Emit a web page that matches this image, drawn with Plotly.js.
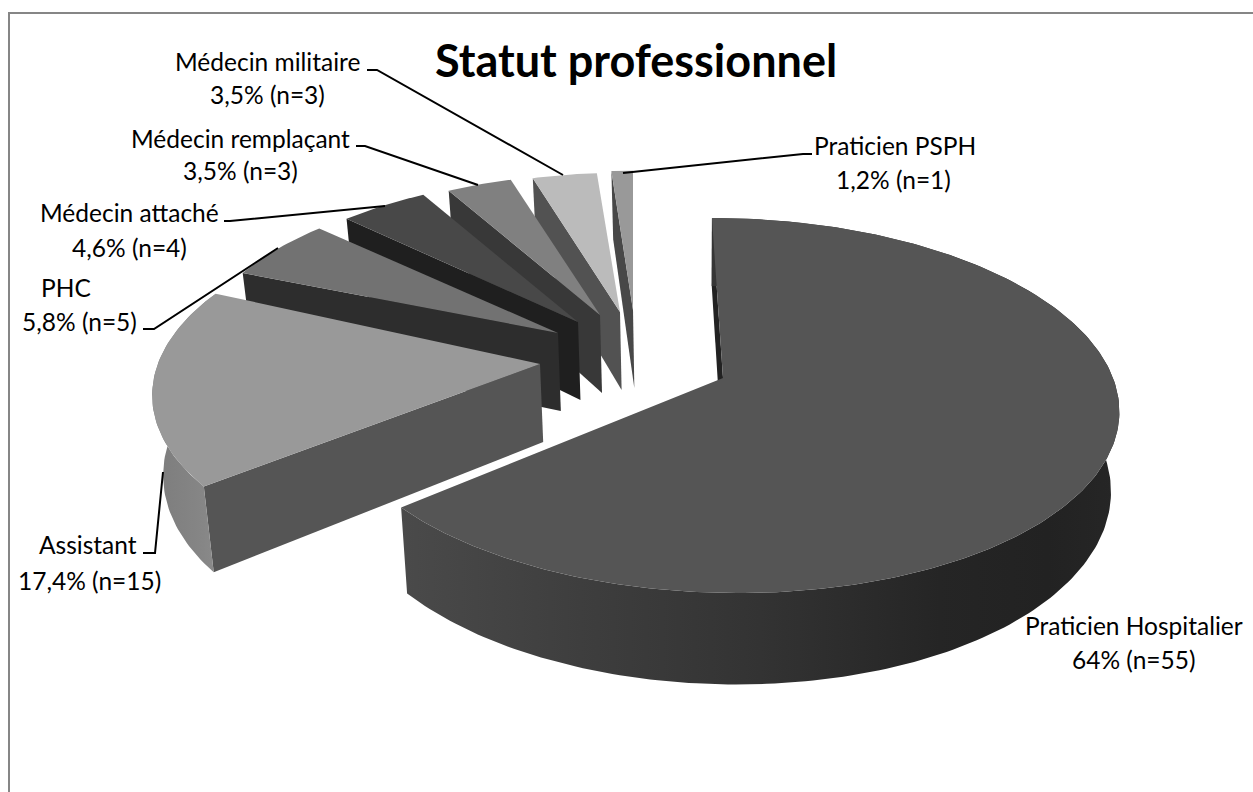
<!DOCTYPE html>
<html>
<head>
<meta charset="utf-8">
<script src="https://cdn.plot.ly/plotly-3.0.1.min.js"></script>
<style>html,body{margin:0;padding:0;background:#fff}#chart{width:1253px;height:792px}</style>
</head>
<body>
<div id="chart"></div>
<script>
// --- data ---
const categories = ["Praticien Hospitalier","Assistant","PHC","Médecin attaché","Médecin remplaçant","Médecin militaire","Praticien PSPH"];
const counts = [55,15,5,4,3,3,1];
const percentLabels = ["64%","17,4%","5,8%","4,6%","3,5%","3,5%","1,2%"];
const chartTitle = "Statut professionnel";

// --- styles and placement (not data) ---
const topColors  = ["#555555","#999999","#727272","#484848","#808080","#bbbbbb","#999999"];
const wallColors = ["#222222","#555555","#2d2d2d","#1f1f1f","#383838","#525252","#484848"];
const apexX = [723,540,558,578,600,620,633];
const apexY = [378,364,333,322,315,312,310];
const angleShift = [0,1.5,-1,-0.5,-0.5,-0.3,0];
const radiusScale = [1,0.98,0.92,0.9,0.88,0.87,0.87];
const sliceSkew = [0.069,-0.05,0,0,0,0,0];
const radiusX = 390, radiusY = 183.5, persp = 0.1467, depth = 78, vanishX = 700;

const total = counts.reduce((a,b)=>a+b,0);
function rim(i,deg){
  const t = deg*Math.PI/180, u = Math.sin(t), v = Math.cos(t), s = 1/(1+persp*v);
  const dy = -radiusY*radiusScale[i]*v*s;
  const x = apexX[i]+radiusX*radiusScale[i]*u*s+sliceSkew[i]*dy, y = apexY[i]+dy;
  return {x,y,s};
}
function drop(p,s){ return {x:p.x+(vanishX-p.x)*0.02, y:p.y+depth*s}; }
function poly(pts,color,extra){
  return Object.assign({x:pts.map(p=>p.x).concat(pts[0].x), y:pts.map(p=>p.y).concat(pts[0].y),
    mode:"lines", fill:"toself", fillcolor:color, line:{width:0,color:color}, hoverinfo:"skip", showlegend:false},extra||{});
}
let a = 0; const spans = counts.map(c=>{const r=[a,a+c/total*360]; a=r[1]; return r;});
function wedge(i){
  const [a0,a1] = spans[i].map(d=>d+angleShift[i]);
  const arc=[]; const N=Math.max(12,Math.round((a1-a0)));
  for(let k=0;k<=N;k++) arc.push(rim(i,a0+(a1-a0)*k/N));
  const apex={x:apexX[i],y:apexY[i],s:1};
  const apexB=drop(apex,1);
  const out=[];
  const first = rim(i,a0);
  out.push(poly([apex,first,drop(first,first.s),apexB],wallColors[i]));
  if(i===1){
    const bot=arc.map(p=>drop(p,p.s)).reverse();
    out.push(poly(arc.concat(bot),"#888888",{fillgradient:{type:"horizontal",colorscale:[[0,"#7c7c7c"],[0.7,"#868686"],[1,"#8e8e8e"]]}}));
  }
  if(i===0){
    const bot=arc.map(p=>drop(p,p.s)).reverse();
    out.push(poly(arc.concat(bot),"#333333",{fillgradient:{type:"horizontal",colorscale:[[0,"#4a4a4a"],[0.25,"#3e3e3e"],[0.5,"#333333"],[0.75,"#252525"],[0.9,"#222222"],[1,"#262626"]]}}));
  }
  out.push(poly([apex].concat(arc),topColors[i]));
  return out;
}
const traces=[];
[6,5,4,3,2,1,0].forEach(i=>wedge(i).forEach(t=>traces.push(t)));

// leader lines
const leaderX = [[143,155,163],[143,154,278],[224,230,385],[356,365,478],[367,377,563],[812,803,623]];
const leaderY = [[553,553,472],[329,329,248],[221,221,206],[146,146,185],[70,70,175],[154,154,173]];
leaderX.forEach((xs,i)=>{
  traces.push({x:xs,y:leaderY[i],mode:"lines",line:{color:"#000",width:2},hoverinfo:"skip",showlegend:false});
});

// label placement: name line and value line
const nameX=[1134,88,66,129,240,267,895], nameY=[625,544,287,212,138,61,145];
const valX =[1134,89,79,129,240,267,893], valY =[659,580,321,247,170,94,179];
const FONT="Lato, Carlito, Calibri, sans-serif";
const ann=[];
categories.forEach((c,i)=>{
  ann.push({x:nameX[i],y:nameY[i],text:c,showarrow:false,xref:"x",yref:"y",xanchor:"center",yanchor:"middle",font:{family:FONT,size:24.5,color:"#000"}});
  ann.push({x:valX[i],y:valY[i],text:percentLabels[i]+" (n="+counts[i]+")",showarrow:false,xref:"x",yref:"y",xanchor:"center",yanchor:"middle",font:{family:FONT,size:24.5,color:"#000"}});
});
ann.push({x:636,y:60,text:"<b>"+chartTitle+"</b>",showarrow:false,xref:"x",yref:"y",xanchor:"center",yanchor:"middle",font:{family:FONT,size:45,color:"#000"}});

const layout={
  width:1253,height:792,margin:{l:0,r:0,t:0,b:0},paper_bgcolor:"#fff",plot_bgcolor:"#fff",showlegend:false,
  xaxis:{range:[0,1253],visible:false,fixedrange:true},
  yaxis:{range:[792,0],visible:false,fixedrange:true},
  annotations:ann,
  shapes:[{type:"path",path:"M 9 792 L 9 13 L 1253 13",xref:"x",yref:"y",line:{color:"#868686",width:2}}]
};
Plotly.newPlot("chart",traces,layout,{displayModeBar:false,staticPlot:true});
</script>
</body>
</html>
